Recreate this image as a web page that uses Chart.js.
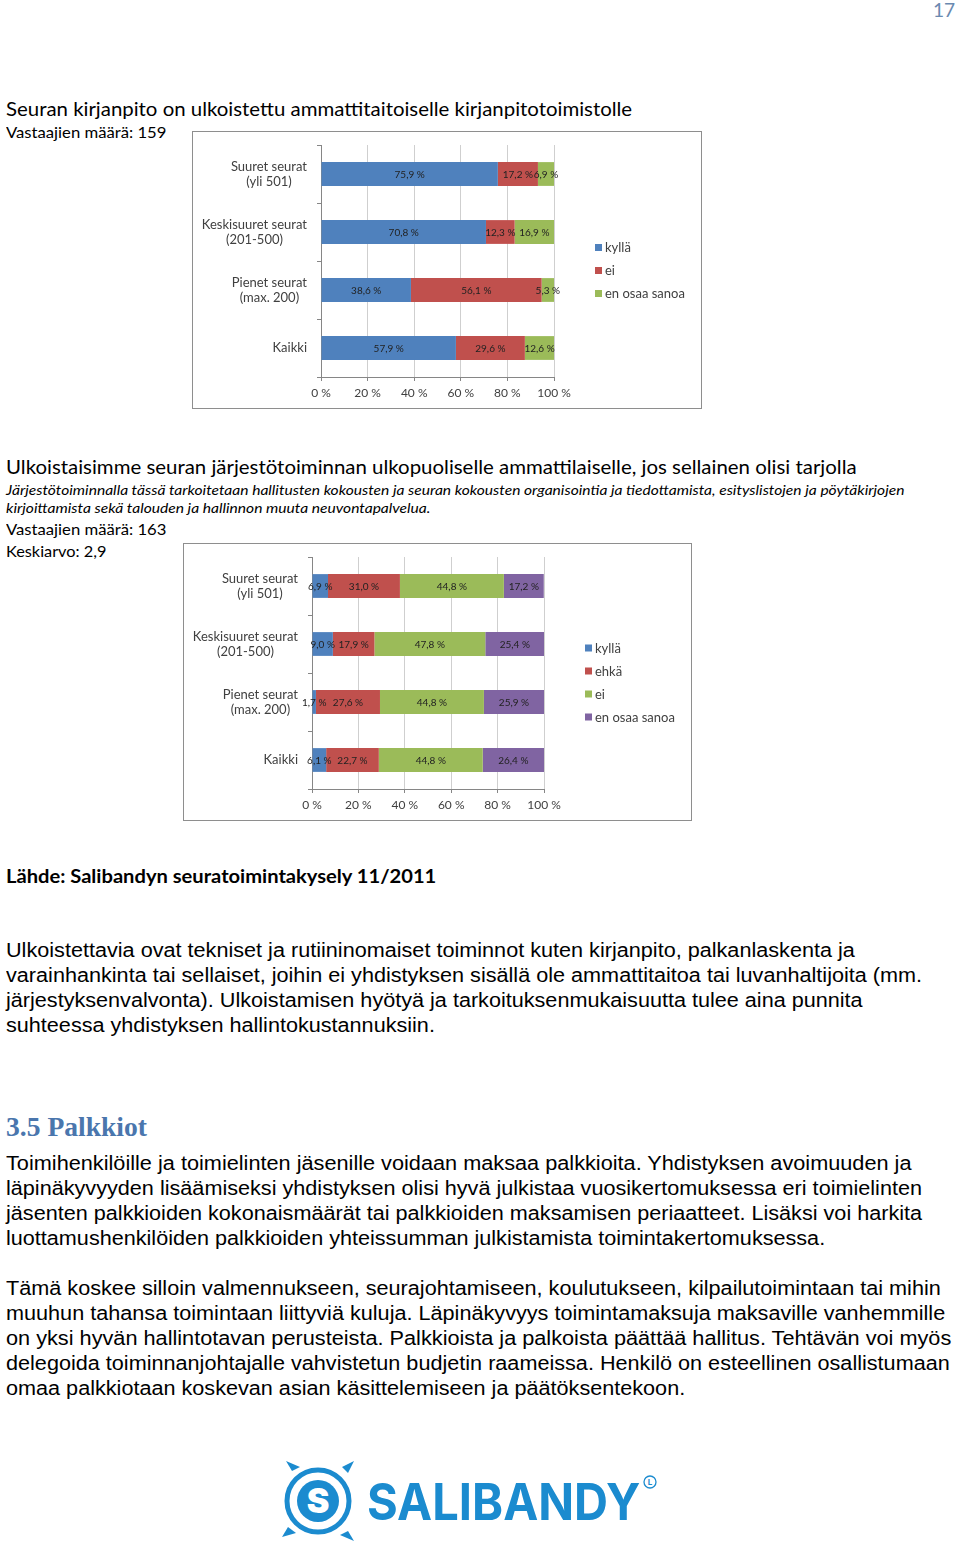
<!DOCTYPE html>
<html><head><meta charset="utf-8">
<script src="https://cdn.jsdelivr.net/npm/chart.js@4.4.0/dist/chart.umd.min.js"></script>
<style>
html,body{margin:0;padding:0;background:#fff;}
body{width:960px;height:1541px;position:relative;overflow:hidden;}
.t{position:absolute;white-space:nowrap;line-height:1;transform-origin:0 50%;color:#000;}
.cal{font-family:Lato,"Open Sans",sans-serif;}
.ar{font-family:"Liberation Sans",Arial,sans-serif;font-size:20px;}
.box{position:absolute;border:1px solid #8e8e8e;box-sizing:border-box;pointer-events:none;}
canvas{position:absolute;}
</style></head>
<body>
<div class="t cal" data-x="933" data-y="9" data-w="22" style="font-size:20px;color:#6a89b0">17</div>

<div class="t cal" data-x="6" data-y="108" data-w="626" style="font-size:19px">Seuran kirjanpito on ulkoistettu ammattitaitoiselle kirjanpitotoimistolle</div>
<div class="t cal" data-x="6" data-y="132" data-w="160" style="font-size:15px">Vastaajien määrä: 159</div>

<canvas id="c1" width="510" height="278" style="left:192px;top:131px"></canvas>
<div class="box" style="left:192px;top:131px;width:510px;height:278px"></div>

<div class="t cal" data-x="6" data-y="466" data-w="851" style="font-size:19px">Ulkoistaisimme seuran järjestötoiminnan ulkopuoliselle ammattilaiselle, jos sellainen olisi tarjolla</div>
<div class="t cal" data-x="6" data-y="490" data-w="899" style="font-size:14px;font-style:italic">Järjestötoiminnalla tässä tarkoitetaan hallitusten kokousten ja seuran kokousten organisointia ja tiedottamista, esityslistojen ja pöytäkirjojen</div>
<div class="t cal" data-x="6" data-y="508" data-w="424" style="font-size:14px;font-style:italic">kirjoittamista sekä talouden ja hallinnon muuta neuvontapalvelua.</div>
<div class="t cal" data-x="6" data-y="529" data-w="160" style="font-size:15px">Vastaajien määrä: 163</div>
<div class="t cal" data-x="6" data-y="551" data-w="100" style="font-size:15px">Keskiarvo: 2,9</div>

<canvas id="c2" width="509" height="278" style="left:183px;top:543px"></canvas>
<div class="box" style="left:183px;top:543px;width:509px;height:278px"></div>

<div class="t cal" data-x="6" data-y="875" data-w="430" style="font-size:19px;font-weight:bold">Lähde: Salibandyn seuratoimintakysely 11/2011</div>

<div class="t ar" data-x="6" data-y="950" data-w="849">Ulkoistettavia ovat tekniset ja rutiininomaiset toiminnot kuten kirjanpito, palkanlaskenta ja</div>
<div class="t ar" data-x="6" data-y="975" data-w="916">varainhankinta tai sellaiset, joihin ei yhdistyksen sisällä ole ammattitaitoa tai luvanhaltijoita (mm.</div>
<div class="t ar" data-x="6" data-y="1000" data-w="857">järjestyksenvalvonta). Ulkoistamisen hyötyä ja tarkoituksenmukaisuutta tulee aina punnita</div>
<div class="t ar" data-x="6" data-y="1025" data-w="429">suhteessa yhdistyksen hallintokustannuksiin.</div>

<div class="t" data-x="6" data-y="1127" data-w="141" style="font-family:'Liberation Serif',serif;font-weight:bold;font-size:27px;color:#4a76ad">3.5 Palkkiot</div>

<div class="t ar" data-x="6" data-y="1163" data-w="906">Toimihenkilöille ja toimielinten jäsenille voidaan maksaa palkkioita. Yhdistyksen avoimuuden ja</div>
<div class="t ar" data-x="6" data-y="1188" data-w="916">läpinäkyvyyden lisäämiseksi yhdistyksen olisi hyvä julkistaa vuosikertomuksessa eri toimielinten</div>
<div class="t ar" data-x="6" data-y="1213" data-w="916">jäsenten palkkioiden kokonaismäärät tai palkkioiden maksamisen periaatteet. Lisäksi voi harkita</div>
<div class="t ar" data-x="6" data-y="1238" data-w="819">luottamushenkilöiden palkkioiden yhteissumman julkistamista toimintakertomuksessa.</div>

<div class="t ar" data-x="6" data-y="1288" data-w="935">Tämä koskee silloin valmennukseen, seurajohtamiseen, koulutukseen, kilpailutoimintaan tai mihin</div>
<div class="t ar" data-x="6" data-y="1313" data-w="939">muuhun tahansa toimintaan liittyviä kuluja. Läpinäkyvyys toimintamaksuja maksaville vanhemmille</div>
<div class="t ar" data-x="6" data-y="1338" data-w="945">on yksi hyvän hallintotavan perusteista. Palkkioista ja palkoista päättää hallitus. Tehtävän voi myös</div>
<div class="t ar" data-x="6" data-y="1363" data-w="944">delegoida toiminnanjohtajalle vahvistetun budjetin raameissa. Henkilö on esteellinen osallistumaan</div>
<div class="t ar" data-x="6" data-y="1388" data-w="679">omaa palkkiotaan koskevan asian käsittelemiseen ja päätöksentekoon.</div>

<svg style="position:absolute;left:270px;top:1455px" width="100" height="90" viewBox="0 0 100 90">
  <g fill="#1b8bcf">
    <polygon points="22,16 16,6 30,12"/>
    <polygon points="72,12 84,6 78,18"/>
    <polygon points="18,72 12,82 26,78"/>
    <polygon points="78,76 84,86 70,80"/>
  </g>
  <circle cx="48" cy="46" r="31" fill="none" stroke="#1b8bcf" stroke-width="5"/>
  <circle cx="48" cy="46" r="21" fill="#1b8bcf"/>
  <text x="48" y="58" text-anchor="middle" font-family="Inter,Roboto,sans-serif" font-weight="900" font-size="34" fill="#fff">S</text>
</svg>
<div class="t" data-x="367" data-y="1501" data-w="273" style="font-family:Inter,Roboto,sans-serif;font-weight:700;font-size:51px;color:#1b8bcf">SALIBANDY</div>
<svg style="position:absolute;left:642px;top:1474px" width="16" height="16" viewBox="0 0 16 16">
  <circle cx="8" cy="8" r="6" fill="none" stroke="#1b8bcf" stroke-width="1.3"/>
  <text x="8" y="11" text-anchor="middle" font-family="Inter,sans-serif" font-size="8" font-weight="700" fill="#1b8bcf">L</text>
</svg>

<script>
// ---- data ----
const categories = [['Suuret seurat','(yli 501)'],['Keskisuuret seurat','(201-500)'],['Pienet seurat','(max. 200)'],['Kaikki']];
const xTickValues = [0,20,40,60,80,100];

const c1Labels = ['kyllä','ei','en osaa sanoa'];
const c1Kylla = [75.9,70.8,38.6,57.9];
const c1Ei    = [17.2,12.3,56.1,29.6];
const c1Eos   = [6.9,16.9,5.3,12.6];

const c2Labels = ['kyllä','ehkä','ei','en osaa sanoa'];
const c2Kylla = [6.9,9.0,1.7,6.1];
const c2Ehka  = [31.0,17.9,27.6,22.7];
const c2Ei    = [44.8,47.8,44.8,44.8];
const c2Eos   = [17.2,25.4,25.9,26.4];

const BLUE='#4F81BD', RED='#C0504D', GREEN='#9BBB59', PURPLE='#8064A2';

// ---- text fitting ----
document.querySelectorAll('.t').forEach(el=>{
  const x=+el.dataset.x, y=+el.dataset.y, w=+el.dataset.w;
  el.style.left=x+'px';
  const h=el.offsetHeight;
  el.style.top=(y-h/2)+'px';
  const s=w/el.offsetWidth;
  el.style.transform='scaleX('+s+')';
});

const fmt = v => v.toFixed(1).replace('.',',')+' %';

const valueLabels = {
  id:'valueLabels',
  afterDatasetsDraw(chart){
    const ctx=chart.ctx; ctx.save();
    ctx.font='10px Lato'; ctx.fillStyle='#222'; ctx.textAlign='center'; ctx.textBaseline='middle';
    chart.data.datasets.forEach((ds,i)=>{
      chart.getDatasetMeta(i).data.forEach((el,j)=>{
        const p=el.getProps(['x','base','y'],true);
        ctx.fillText(fmt(ds.data[j]),(p.x+p.base)/2,p.y+1);
      });
    });
    ctx.restore();
  }
};

// category labels: block right-aligned to the axis, lines centred within the block
const catLabels = {
  id:'catLabels',
  afterDraw(chart){
    const s=chart.scales.y, ctx=chart.ctx;
    ctx.save();
    ctx.font='13px Lato'; ctx.fillStyle='#404040'; ctx.textBaseline='middle'; ctx.textAlign='center';
    const right=s.right-14, lh=15;
    chart.data.labels.forEach((lab,i)=>{
      const lines=Array.isArray(lab)?lab:[lab];
      const w=Math.max(...lines.map(l=>ctx.measureText(l).width));
      const cx=right-w/2, y=s.getPixelForTick(i);
      lines.forEach((l,k)=>ctx.fillText(l,cx,y+(k-(lines.length-1)/2)*lh));
    });
    ctx.restore();
  }
};

const sideLegend = {
  id:'sideLegend',
  afterDraw(chart){
    const ctx=chart.ctx, n=chart.data.datasets.length, dy=23;
    const x=chart.chartArea.right+41;
    const y0=chart.height/2-(n-1)*dy/2;
    ctx.save();
    ctx.font='13px Lato'; ctx.textBaseline='middle'; ctx.textAlign='left';
    chart.data.datasets.forEach((ds,i)=>{
      const y=y0+i*dy;
      ctx.fillStyle=ds.backgroundColor; ctx.fillRect(x,y-3,7,7);
      ctx.fillStyle='#404040'; ctx.fillText(ds.label,x+10,y+1);
    });
    ctx.restore();
  }
};

function makeChart(id, names, series, colors){
  return new Chart(document.getElementById(id),{
    type:'bar',
    data:{
      labels:categories,
      datasets:series.map((d,i)=>({label:names[i],data:d,backgroundColor:colors[i],borderWidth:0,
        categoryPercentage:1,barPercentage:0.41}))
    },
    options:{
      indexAxis:'y',responsive:false,animation:false,devicePixelRatio:1,
      layout:{padding:{left:0,right:148,top:14,bottom:0}},
      plugins:{legend:{display:false},tooltip:{enabled:false}},
      scales:{
        x:{stacked:true,min:0,max:100,
          afterBuildTicks(s){s.ticks=xTickValues.map(v=>({value:v}));},
          ticks:{callback:v=>v+' %',font:{family:'Lato',size:12},color:'#404040',padding:5,maxRotation:0},
          grid:{color:'#cfcfcf',tickLength:4,tickColor:'#868686'},
          border:{color:'#868686'},
          afterFit(s){s.height=32;}},
        y:{stacked:true,
          ticks:{display:false},
          grid:{drawOnChartArea:false,drawTicks:true,tickLength:4,color:'#868686'},
          border:{color:'#868686'},
          afterFit(s){s.width=129;}}
      }
    },
    plugins:[valueLabels,catLabels,sideLegend]
  });
}

makeChart('c1',c1Labels,[c1Kylla,c1Ei,c1Eos],[BLUE,RED,GREEN]);
makeChart('c2',c2Labels,[c2Kylla,c2Ehka,c2Ei,c2Eos],[BLUE,RED,GREEN,PURPLE]);
</script>
</body></html>
